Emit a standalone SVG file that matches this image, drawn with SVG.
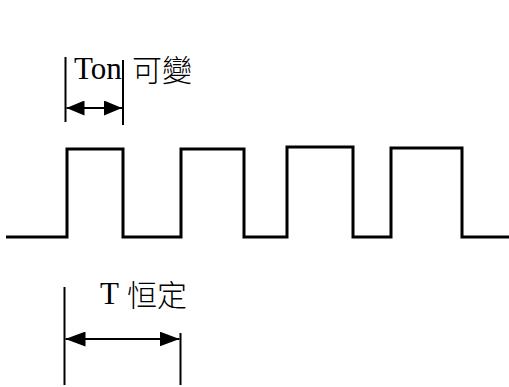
<svg xmlns="http://www.w3.org/2000/svg" width="509" height="387" viewBox="0 0 509 387">
<style>
.wave{fill:none;stroke:#000;stroke-width:3;stroke-linejoin:miter}
.dim{stroke:#000;stroke-width:2;fill:none}
.lbl{font-family:"Liberation Serif","Noto Sans CJK TC",serif;font-size:31px;fill:#000}
.cjk{font-family:"Noto Sans CJK TC","Liberation Serif",sans-serif;font-size:30px;font-weight:300}
</style>
<defs>
<marker id="ah" viewBox="0 0 18 15" refX="18" refY="7.5" markerWidth="18" markerHeight="15" markerUnits="userSpaceOnUse" orient="auto-start-reverse">
<path d="M0,0 L18,7.5 L0,15 Z" fill="#000"/>
</marker>
<marker id="ah2" viewBox="0 0 20 15" refX="20" refY="7.5" markerWidth="20" markerHeight="15" markerUnits="userSpaceOnUse" orient="auto-start-reverse">
<path d="M0,0 L20,7.5 L0,15 Z" fill="#000"/>
</marker>
</defs>
<rect width="509" height="387" fill="#fff"/>
<g id="waveform">
<polyline class="wave" points="6,237 67,237 67,149 123,149 123,237 181,237 181,149 244,149 244,237 287,237 287,147 353,147 353,237 391,237 391,148 462,148 462,237 509,237"/>
</g>
<g id="ton-dim">
<line class="dim" x1="65.5" y1="57" x2="65.5" y2="122"/>
<line class="dim" x1="123" y1="60" x2="123" y2="125"/>
</g>
<g id="t-dim">
<line class="dim" x1="64.5" y1="287" x2="64.5" y2="385"/>
<line class="dim" x1="180.5" y1="333" x2="180.5" y2="385"/>
</g>
<g id="connectors">
<line class="dim" x1="66.5" y1="108" x2="122" y2="108" marker-start="url(#ah)" marker-end="url(#ah)"/>
<line class="dim" x1="65.5" y1="339" x2="179.5" y2="339" marker-start="url(#ah2)" marker-end="url(#ah2)"/>
</g>
<g id="ton-label">
<text class="lbl" y="79"><tspan x="74">Ton </tspan><tspan class="cjk" x="132" y="81">可變</tspan></text>
</g>
<g id="t-label">
<text class="lbl" y="304"><tspan x="100">T </tspan><tspan class="cjk" x="127" y="306">恒定</tspan></text>
</g>
</svg>
